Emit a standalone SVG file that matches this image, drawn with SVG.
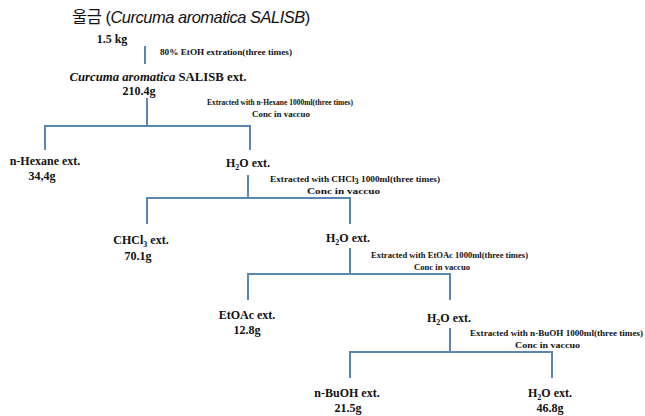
<svg xmlns="http://www.w3.org/2000/svg" width="645" height="416" viewBox="0 0 645 416">
<style>
.n{font-family:"Liberation Serif","Times New Roman",serif;font-weight:bold;font-size:12px;fill:#111;text-anchor:middle}
.a{font-family:"Liberation Serif","Times New Roman",serif;font-weight:bold;font-size:9px;fill:#111}
.c{fill:none;stroke:#5a86b4;stroke-width:2}
.s{font-size:8px}
</style>
<rect width="645" height="416" fill="#fff"/>
<g id="connectors" class="c">
<path d="M145,46V64"/>
<path d="M147,98V126M45,150V126H250V150"/>
<path d="M248,175V198M147,224V198H350V224"/>
<path d="M350,248V274M248,300V274H450V300"/>
<path d="M450,328V352M350,378V352H552V378"/>
</g>
<g id="n0">
<text x="72" y="23" font-family="Liberation Sans,Noto Sans CJK KR,sans-serif" font-size="16.5" letter-spacing="-0.5" fill="#111">울금 (<tspan font-style="italic">Curcuma aromatica SALISB</tspan>)</text>
<text class="n" x="112" y="43" font-size="10.5">1.5 kg</text>
</g>
<g id="a0"><text class="a" x="160" y="55" textLength="132" lengthAdjust="spacingAndGlyphs">80% EtOH extration(three times)</text></g>
<g id="n1">
<text class="n" x="158" y="81" font-size="13" textLength="177" lengthAdjust="spacingAndGlyphs"><tspan font-style="italic">Curcuma aromatica</tspan> SALISB ext.</text>
<text class="n" x="139" y="95">210.4g</text>
</g>
<g id="a1">
<text class="a" x="207" y="105" textLength="146" lengthAdjust="spacingAndGlyphs">Extracted with n-Hexane 1000ml(three  times)</text>
<text class="a" x="252" y="117" textLength="58" lengthAdjust="spacingAndGlyphs">Conc in vaccuo</text>
</g>
<g id="n2"><text class="n" x="45" y="165">n-Hexane ext.</text><text class="n" x="42" y="180">34,4g</text></g>
<g id="n3"><text class="n" x="248" y="167">H<tspan class="s" dy="3">2</tspan><tspan dy="-3">O ext.</tspan></text></g>
<g id="a2">
<text class="a" x="270" y="182" textLength="170" lengthAdjust="spacingAndGlyphs">Extracted with CHCl<tspan class="s" dy="2">3</tspan><tspan dy="-2"> 1000ml(three  times)</tspan></text>
<text class="a" x="307" y="194" textLength="73" lengthAdjust="spacingAndGlyphs">Conc in vaccuo</text>
</g>
<g id="n4"><text class="n" x="141" y="244">CHCl<tspan class="s" dy="3">3</tspan><tspan dy="-3"> ext.</tspan></text><text class="n" x="138" y="260">70.1g</text></g>
<g id="n5"><text class="n" x="348" y="242">H<tspan class="s" dy="3">2</tspan><tspan dy="-3">O ext.</tspan></text></g>
<g id="a3">
<text class="a" x="371" y="258" textLength="157" lengthAdjust="spacingAndGlyphs">Extracted with EtOAc 1000ml(three  times)</text>
<text class="a" x="414" y="270" textLength="56" lengthAdjust="spacingAndGlyphs">Conc in vaccuo</text>
</g>
<g id="n6"><text class="n" x="247" y="319">EtOAc ext.</text><text class="n" x="247" y="334">12.8g</text></g>
<g id="n7"><text class="n" x="449" y="322">H<tspan class="s" dy="3">2</tspan><tspan dy="-3">O ext.</tspan></text></g>
<g id="a4">
<text class="a" x="470" y="336" textLength="173" lengthAdjust="spacingAndGlyphs">Extracted with n-BuOH 1000ml(three times)</text>
<text class="a" x="515" y="348" textLength="65" lengthAdjust="spacingAndGlyphs">Conc in vaccuo</text>
</g>
<g id="n8"><text class="n" x="347" y="397">n-BuOH ext.</text><text class="n" x="348" y="412">21.5g</text></g>
<g id="n9"><text class="n" x="550" y="397">H<tspan class="s" dy="3">2</tspan><tspan dy="-3">O ext.</tspan></text><text class="n" x="550" y="412">46.8g</text></g>
</svg>
